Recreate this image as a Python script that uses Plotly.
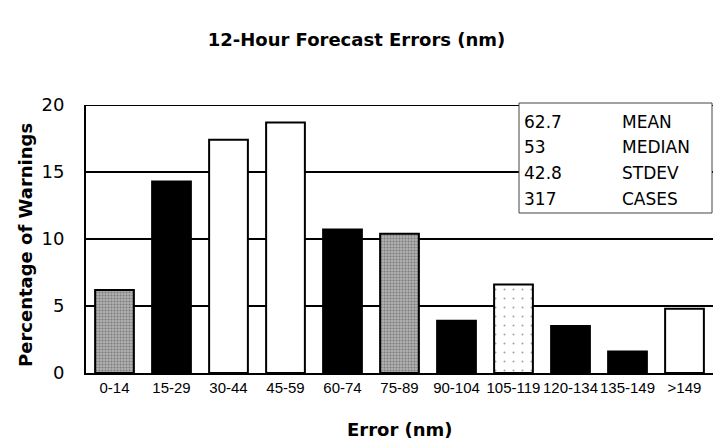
import plotly.graph_objects as go

# Error bins (nm) and share of warnings in each bin (%)
categories = ["0-14", "15-29", "30-44", "45-59", "60-74", "75-89",
              "90-104", "105-119", "120-134", "135-149", ">149"]
percentages = [6.2, 14.3, 17.4, 18.7, 10.7, 10.4, 3.9, 6.6, 3.5, 1.6, 4.8]

# Bar fills: "gray" stippled, "black" solid, "white" plain, "light" sparse stipple
fill_kind = ["gray", "black", "white", "white", "black", "gray",
             "black", "light", "black", "black", "white"]

# Summary statistics shown in the inset box
stat_values = ["62.7", "53", "42.8", "317"]
stat_names = ["MEAN", "MEDIAN", "STDEV", "CASES"]
y_ticks = [0, 5, 10, 15, 20]

bg_map = {"gray": "#b0b0b0", "black": "#000000", "white": "#ffffff", "light": "#ffffff"}
shape_map = {"gray": ".", "black": "", "white": "", "light": "."}
fg_map = {"gray": "#333333", "black": "#000000", "white": "#000000", "light": "#8a8a8a"}
size_map = {"gray": 3, "black": 8, "white": 8, "light": 9}
sol_map = {"gray": 0.35, "black": 0.3, "white": 0.3, "light": 0.04}

fig = go.Figure()
fig.add_trace(go.Bar(
    x=categories,
    y=percentages,
    marker=dict(
        color=[bg_map[k] for k in fill_kind],
        line=dict(color="#000000", width=2),
        pattern=dict(
            shape=[shape_map[k] for k in fill_kind],
            fgcolor=[fg_map[k] for k in fill_kind],
            size=[size_map[k] for k in fill_kind],
            solidity=[sol_map[k] for k in fill_kind],
            fillmode="overlay",
        ),
    ),
    showlegend=False,
    hoverinfo="skip",
))

L, R, T, B = 86, 0, 105, 70
W, H = 713, 443
plot_w = W - L - R
plot_h = H - T - B


def px_x(p):
    return (p - L) / plot_w


def px_y(p):
    return (H - B - p) / plot_h


# Horizontal rules at each y tick, kept beneath the bars
for t in y_ticks[1:]:
    fig.add_shape(type="line", xref="paper", yref="y", x0=0, x1=1, y0=t, y1=t,
                  line=dict(color="#000000", width=2), layer="below")

# Inset statistics box
fig.add_shape(type="rect", xref="paper", yref="paper",
              x0=px_x(519), x1=px_x(712), y0=px_y(213), y1=px_y(103),
              fillcolor="#ffffff", line=dict(color="#444444", width=1), layer="above")

row_y = [122, 147, 173, 199]
for val, name, py in zip(stat_values, stat_names, row_y):
    fig.add_annotation(x=px_x(522), y=px_y(py), xref="paper", yref="paper",
                       text=val, showarrow=False, xanchor="left", yanchor="middle",
                       font=dict(family="DejaVu Sans", size=17, color="#000000"))
    fig.add_annotation(x=px_x(620), y=px_y(py), xref="paper", yref="paper",
                       text=name, showarrow=False, xanchor="left", yanchor="middle",
                       font=dict(family="DejaVu Sans", size=17, color="#000000"))

# Axis titles
fig.add_annotation(x=0.5, y=px_y(429), xref="paper", yref="paper",
                   text="<b>Error (nm)</b>", showarrow=False,
                   xanchor="center", yanchor="middle",
                   font=dict(family="DejaVu Sans", size=18, color="#000000"))
fig.add_annotation(x=px_x(25), y=px_y(245), xref="paper", yref="paper",
                   text="<b>Percentage of Warnings</b>", showarrow=False, textangle=-90,
                   xanchor="center", yanchor="middle",
                   font=dict(family="DejaVu Sans", size=18, color="#000000"))

fig.update_layout(
    width=W, height=H,
    margin=dict(l=L, r=R, t=T, b=B, pad=0, autoexpand=False),
    paper_bgcolor="#ffffff",
    plot_bgcolor="#ffffff",
    bargap=0.32,
    title=dict(text="<b>12-Hour Forecast Errors (nm)</b>",
               x=0.5, xref="container", xanchor="center",
               y=1 - 40 / H, yref="container", yanchor="middle",
               font=dict(family="DejaVu Sans", size=18, color="#000000")),
    xaxis=dict(
        type="category",
        range=[-0.5, len(categories) - 0.5],
        showline=True, linecolor="#000000", linewidth=2,
        showgrid=False, ticks="",
        tickangle=0, automargin=False,
        tickfont=dict(family="Liberation Sans", size=15, color="#000000"),
        ticklabelstandoff=0,
        fixedrange=True,
    ),
    yaxis=dict(
        range=[0, 20],
        tickvals=y_ticks,
        showline=True, linecolor="#000000", linewidth=2,
        showgrid=False, automargin=False,
        zeroline=False, ticks="",
        tickfont=dict(family="DejaVu Sans", size=18, color="#000000"),
        ticklabelstandoff=16,
        fixedrange=True,
    ),
)

fig.write_html("out.html")
